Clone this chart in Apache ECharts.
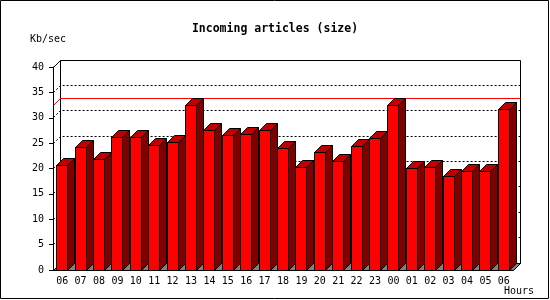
<!DOCTYPE html>
<html>
<head>
<meta charset="utf-8">
<script src="https://cdn.jsdelivr.net/npm/echarts@6/dist/echarts.min.js"></script>
<style>html,body{margin:0;padding:0;background:#fff}#c{width:550px;height:300px}</style>
</head>
<body>
<div id="c"></div>
<script>
var categories = ['06','07','08','09','10','11','12','13','14','15','16','17','18','19','20','21','22','23','00','01','02','03','04','05','06'];
var incomingKb = [20.5,24.2,21.7,26.1,26.1,24.6,25.2,32.5,27.5,26.5,26.7,27.5,24.0,20.2,23.2,21.4,24.4,26.0,32.5,20.0,20.2,18.5,19.4,19.4,31.7];
var yTicks = [0,5,10,15,20,25,30,35,40];
var maxValue = Math.max.apply(null, incomingKb);

var FONT = 'DejaVu Sans Mono';
var D = 7;
function s(v){ return Math.floor(v) + 0.5; }

var chart = echarts.init(document.getElementById('c'));
var barData = incomingKb.map(function(v, i){ return [i, v]; });

chart.setOption({
  animation: false,
  backgroundColor: '#fff',
  title: {
    text: 'Incoming articles (size)',
    left: 'center', top: 18,
    textStyle: {fontFamily: FONT, fontWeight: 'bold', fontSize: 11.5, color: '#000'}
  },
  graphic: [
    {type: 'rect', shape: {x: 0.5, y: 0.5, width: 548, height: 298}, style: {fill: null, stroke: '#000', lineWidth: 1}, z: 100},
    {type: 'text', left: 30, top: 34, style: {text: 'Kb/sec', font: '10px "DejaVu Sans Mono"', fill: '#000'}},
    {type: 'text', left: 504, top: 286, style: {text: 'Hours', font: '10px "DejaVu Sans Mono"', fill: '#000'}}
  ],
  grid: {left: 53, top: 67, width: 460, height: 203},
  xAxis: {
    type: 'category', data: categories, boundaryGap: true,
    axisLine: {lineStyle: {color: '#000', width: 1}},
    axisTick: {length: 4, interval: 0, lineStyle: {color: '#000'}},
    axisLabel: {interval: 0, margin: 6.5, fontFamily: FONT, fontSize: 10, color: '#000'},
    splitLine: {show: false}
  },
  yAxis: {
    type: 'value', min: 0, max: 40, interval: 5,
    axisLine: {show: true, lineStyle: {color: '#000', width: 1}},
    axisTick: {show: true, length: 4, lineStyle: {color: '#000'}},
    axisLabel: {margin: 9, fontFamily: FONT, fontSize: 10, color: '#000'},
    splitLine: {show: false}
  },
  series: [
    {
      type: 'custom', name: 'frame', z: 1, silent: true,
      data: [[0, 0]],
      renderItem: function(params, api){
        var cs = params.coordSys;
        var x = cs.x, y = cs.y, w = cs.width, h = cs.height;
        var ch = [];
        ch.push({type: 'rect', shape: {x: s(x + D), y: s(y - D), width: Math.round(w), height: Math.round(h)},
          style: {fill: '#fff', stroke: '#000', lineWidth: 1}});
        yTicks.forEach(function(t){
          if (t === 0 || t === 40) return;
          var yf = api.coord([0, t])[1];
          ch.push({type: 'polyline', shape: {points: [[s(x), s(yf)], [s(x + D), s(yf - D)], [s(x + D + w), s(yf - D)]]},
            style: {fill: null, stroke: '#000', lineWidth: 1, lineDash: [2, 2]}});
        });
        var ym = api.coord([0, maxValue])[1];
        ch.push({type: 'polyline', shape: {points: [[s(x), s(ym)], [s(x + D), s(ym - D)], [s(x + D + w), s(ym - D)]]},
          style: {fill: null, stroke: '#ff0000', lineWidth: 1}});
        ch.push({type: 'line', shape: {x1: s(x), y1: s(y), x2: s(x + D), y2: s(y - D)}, style: {stroke: '#000', lineWidth: 1}});
        var yb = y + h;
        ch.push({type: 'polygon', shape: {points: [[s(x), s(yb)], [s(x + w), s(yb)], [s(x + w + D), s(yb - D)], [s(x + D), s(yb - D)]]},
          style: {fill: '#808080', stroke: '#000', lineWidth: 1}});
        return {type: 'group', children: ch};
      }
    },
    {
      type: 'custom', name: 'Incoming', z: 3,
      data: barData,
      renderItem: function(params, api){
        var base = api.coord([api.value(0), 0]);
        var top = api.coord([api.value(0), api.value(1)]);
        var bw = api.size([1, 0])[0];
        var half = bw * 0.3;
        var x0 = s(base[0] - half), x1 = s(base[0] + half);
        var y0 = s(base[1]), y1 = s(top[1]);
        return {type: 'group', children: [
          {type: 'polygon', shape: {points: [[x1, y0], [x1 + D, y0 - D], [x1 + D, y1 - D], [x1, y1]]},
            style: {fill: '#800000', stroke: '#000', lineWidth: 1}},
          {type: 'polygon', shape: {points: [[x0, y1], [x1, y1], [x1 + D, y1 - D], [x0 + D, y1 - D]]},
            style: {fill: '#c00000', stroke: '#000', lineWidth: 1}},
          {type: 'rect', shape: {x: x0, y: y1, width: x1 - x0, height: y0 - y1},
            style: {fill: '#ff0000', stroke: '#000', lineWidth: 1}}
        ]};
      }
    }
  ]
});
</script>
</body>
</html>
